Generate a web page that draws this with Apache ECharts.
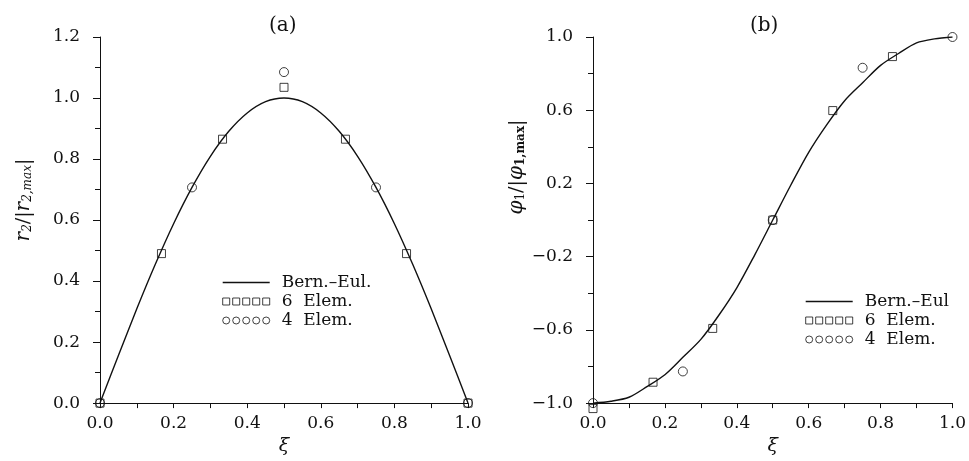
<!DOCTYPE html>
<html>
<head>
<meta charset="utf-8">
<script src="https://cdn.jsdelivr.net/npm/echarts@6/dist/echarts.min.js"></script>
<style>
  html, body { margin: 0; padding: 0; background: #fff; }
  #chart { width: 969px; height: 461px; }
</style>
</head>
<body>
<div id="chart"></div>
<script>
// curve sample positions along the beam
var xiCurve = [0, 0.05, 0.1, 0.15, 0.2, 0.25, 0.3, 0.35, 0.4, 0.45, 0.5,
  0.55, 0.6, 0.65, 0.7, 0.75, 0.8, 0.85, 0.9, 0.95, 1.0];
// (a) Bernoulli-Euler displacement
var curveA = [0, 0.156, 0.309, 0.454, 0.588, 0.707, 0.809, 0.891, 0.951, 0.988, 1.0,
  0.988, 0.951, 0.891, 0.809, 0.707, 0.588, 0.454, 0.309, 0.156, 0];
// (b) Bernoulli-Euler rotation
var curveB = [-1.0, -0.99, -0.968, -0.91, -0.845, -0.75, -0.652, -0.52, -0.37, -0.19, 0.0,
  0.19, 0.37, 0.52, 0.652, 0.75, 0.845, 0.91, 0.968, 0.99, 1.0];

// finite element nodes
var xiSix = [0, 0.167, 0.333, 0.5, 0.667, 0.833, 1.0];
var sixA = [0, 0.49, 0.865, 1.035, 0.865, 0.49, 0.0];
var xiSixB = [0, 0.167, 0.333, 0.5, 0.667, 0.833];
var sixB = [-1.03, -0.886, -0.592, 0.0, 0.598, 0.893];
var xiFour = [0, 0.25, 0.5, 0.75, 1.0];
var fourA = [0, 0.707, 1.085, 0.707, 0];
var fourB = [-1.0, -0.827, 0.0, 0.832, 1.0];

var nameA = 'Bern.–Eul.';
var nameB = 'Bern.–Eul';
var nameSix = '6  Elem.';
var nameFour = '4  Elem.';

function pairs(xs, ys) {
  var out = [];
  for (var i = 0; i < xs.length; i++) out.push([xs[i], ys[i]]);
  return out;
}

var FONT = 'DejaVu Serif';
var INK = '#111';

var squaresIcon = 'path://M0,0h7v7h-7z M10,0h7v7h-7z M20,0h7v7h-7z M30,0h7v7h-7z M40,0h7v7h-7z';
var circlesIcon = 'path://M0,3.5a3.5,3.5 0 1,0 7,0a3.5,3.5 0 1,0 -7,0z ' +
  'M10,3.5a3.5,3.5 0 1,0 7,0a3.5,3.5 0 1,0 -7,0z ' +
  'M20,3.5a3.5,3.5 0 1,0 7,0a3.5,3.5 0 1,0 -7,0z ' +
  'M30,3.5a3.5,3.5 0 1,0 7,0a3.5,3.5 0 1,0 -7,0z ' +
  'M40,3.5a3.5,3.5 0 1,0 7,0a3.5,3.5 0 1,0 -7,0z';
var hollow = { color: 'transparent', borderColor: INK, borderWidth: 1 };

function fmt(v) {
  return v.toFixed(1).replace('-', '−');
}

function xAxisFor(gridIndex) {
  return {
    type: 'value', gridIndex: gridIndex, min: 0, max: 1, interval: 0.2,
    name: 'ξ', nameLocation: 'middle', nameGap: 32,
    nameTextStyle: { fontFamily: FONT, fontSize: 19, fontStyle: 'italic', color: INK },
    axisLine: { show: true, onZero: false, lineStyle: { color: INK, width: 1 } },
    axisTick: { show: true, length: 5, lineStyle: { color: INK } },
    minorTick: { show: true, splitNumber: 2, length: 5, lineStyle: { color: INK } },
    splitLine: { show: false },
    axisLabel: { margin: 12, fontFamily: FONT, fontSize: 17, color: INK, formatter: fmt }
  };
}

function yAxisFor(gridIndex, min, max, interval, name, rich, shift) {
  return {
    type: 'value', gridIndex: gridIndex, min: min, max: max, interval: interval,
    name: name, nameLocation: 'middle', nameGap: 66,
    nameTextStyle: { fontFamily: FONT, fontSize: 18, color: INK, rich: rich, padding: [0, 0, 0, shift] },
    axisLine: { show: true, onZero: false, lineStyle: { color: INK, width: 1 } },
    axisTick: { show: true, length: 7, lineStyle: { color: INK } },
    minorTick: { show: true, splitNumber: 2, length: 5, lineStyle: { color: INK } },
    splitLine: { show: false },
    axisLabel: { margin: 20, fontFamily: FONT, fontSize: 17, color: INK, formatter: fmt }
  };
}

var richA = {
  i: { fontFamily: FONT, fontSize: 20, fontStyle: 'italic', color: INK },
  s: { fontFamily: FONT, fontSize: 12, fontStyle: 'italic', color: INK, padding: [8, 0, 0, 0] },
  n: { fontFamily: FONT, fontSize: 19, color: INK }
};
var richB = {
  i: { fontFamily: FONT, fontSize: 20, fontStyle: 'italic', color: INK },
  s: { fontFamily: FONT, fontSize: 12, color: INK, padding: [8, 0, 0, 0] },
  b: { fontFamily: FONT, fontSize: 12, fontWeight: 'bold', color: INK, padding: [8, 0, 0, 0] },
  n: { fontFamily: FONT, fontSize: 19, color: INK }
};

function legendFor(left, top, lineName) {
  return {
    orient: 'vertical', left: left, top: top, padding: 0,
    itemWidth: 47, itemHeight: 7, itemGap: 2,
    selectedMode: false,
    textStyle: { fontFamily: FONT, fontSize: 17, color: INK, padding: [0, 0, 0, 7] },
    data: [
      { name: lineName, itemStyle: { opacity: 0 }, lineStyle: { color: INK, width: 1.4 } },
      { name: nameSix, icon: squaresIcon, itemStyle: hollow },
      { name: nameFour, icon: circlesIcon, itemStyle: hollow }
    ]
  };
}

function lineSeries(name, idx, data) {
  return {
    name: name, type: 'line', xAxisIndex: idx, yAxisIndex: idx,
    data: data, smooth: 0.3, symbol: 'none',
    lineStyle: { color: INK, width: 1.4 }, itemStyle: { color: INK },
    z: 2
  };
}

function markerSeries(name, idx, data, symbol) {
  return {
    name: name, type: 'scatter', xAxisIndex: idx, yAxisIndex: idx,
    data: data, symbol: symbol, symbolSize: symbol === 'rect' ? 8 : 9,
    clip: false, itemStyle: hollow, z: 3
  };
}

var chart = echarts.init(document.getElementById('chart'), null, { renderer: 'canvas' });

chart.setOption({
  backgroundColor: '#fff',
  animation: false,
  title: [
    { text: '(a)', left: 269, top: 16, padding: 0,
      textStyle: { fontFamily: FONT, fontSize: 20, fontWeight: 'normal', color: INK } },
    { text: '(b)', left: 750, top: 16, padding: 0,
      textStyle: { fontFamily: FONT, fontSize: 20, fontWeight: 'normal', color: INK } }
  ],
  legend: [
    legendFor(222, 274, nameA),
    legendFor(805, 293, nameB)
  ],
  grid: [
    { left: 100, top: 37, width: 368, height: 369 },
    { left: 593, top: 37, width: 364, height: 369 }
  ],
  xAxis: [xAxisFor(0), xAxisFor(1)],
  yAxis: [
    yAxisFor(0, 0, 1.2, 0.2, '{i|r}{s|2}{n|/|}{i|r}{s|2,max}{n||}', richA, 40),
    yAxisFor(1, -1, 1, 0.4, '{i|φ}{s|1}{n|/|}{i|φ}{b|1,max}{n||}', richB, 106)
  ],
  series: [
    lineSeries(nameA, 0, pairs(xiCurve, curveA)),
    markerSeries(nameSix, 0, pairs(xiSix, sixA), 'rect'),
    markerSeries(nameFour, 0, pairs(xiFour, fourA), 'circle'),
    lineSeries(nameB, 1, pairs(xiCurve, curveB)),
    markerSeries(nameSix, 1, pairs(xiSixB, sixB), 'rect'),
    markerSeries(nameFour, 1, pairs(xiFour, fourB), 'circle')
  ]
});
</script>
</body>
</html>
